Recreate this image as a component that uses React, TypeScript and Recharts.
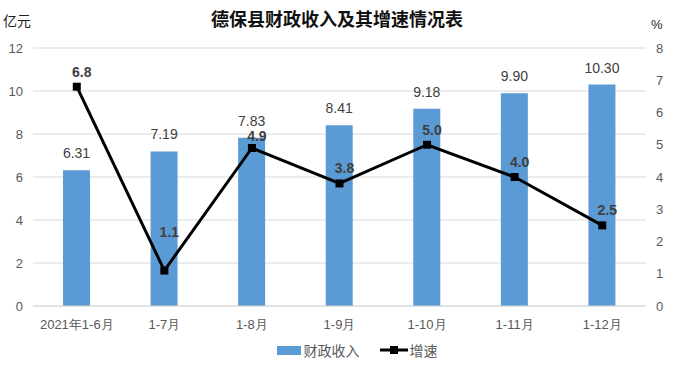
import {
  ComposedChart,
  Bar,
  Line,
  XAxis,
  YAxis,
  CartesianGrid,
  Legend,
  LabelList,
} from 'recharts';

const periods = ['2021年1-6月', '1-7月', '1-8月', '1-9月', '1-10月', '1-11月', '1-12月'];
const revenue = [6.31, 7.19, 7.83, 8.41, 9.18, 9.9, 10.3];
const growth = [6.8, 1.1, 4.9, 3.8, 5.0, 4.0, 2.5];
const leftTicks = [0, 2, 4, 6, 8, 10, 12];
const rightTicks = [0, 1, 2, 3, 4, 5, 6, 7, 8];

// extra lift for growth labels that were nudged by hand in the original
const growthLabelLift = [0, 24, -3, 0, 0, 0, 0];

const data = periods.map((p, i) => ({ period: p, revenue: revenue[i], growth: growth[i] }));

const FONT = '"Liberation Sans", Arial, sans-serif';
const CJK = '"Noto Sans CJK SC", sans-serif';
const tickStyle = { fontSize: 13, fill: '#595959', fontFamily: FONT };

function SquareDot(props: any) {
  const { cx, cy } = props;
  if (cx == null || cy == null) return null;
  return <rect x={cx - 4} y={cy - 4} width={8} height={8} fill="#000" />;
}

function GrowthLabel(props: any) {
  const { x, y, value, index } = props;
  return (
    <text
      x={x + 5}
      y={y - 10 - (growthLabelLift[index] || 0)}
      textAnchor="middle"
      fontSize={14}
      fontWeight="bold"
      fill="#404040"
      fontFamily={FONT}
    >
      {Number(value).toFixed(1)}
    </text>
  );
}

function RevenueLabel(props: any) {
  const { x, y, width, value } = props;
  return (
    <text
      x={x + width / 2}
      y={y - 12}
      textAnchor="middle"
      fontSize={14}
      fill="#404040"
      fontFamily={FONT}
    >
      {Number(value).toFixed(2)}
    </text>
  );
}

function ChartLegend() {
  return (
    <div style={{ display: 'flex', justifyContent: 'center', alignItems: 'center', gap: 20, paddingLeft: 40, marginTop: 4, fontSize: 14, fontFamily: CJK, color: '#595959' }}>
      <span style={{ display: 'flex', alignItems: 'center' }}>
        <span style={{ display: 'inline-block', width: 24, height: 9, background: '#5B9BD5', marginRight: 3 }} />
        财政收入
      </span>
      <span style={{ display: 'flex', alignItems: 'center' }}>
        <svg width={28} height={10} style={{ marginRight: 2 }}>
          <line x1={0} y1={5} x2={28} y2={5} stroke="#000" strokeWidth={3} />
          <rect x={10} y={1} width={8} height={8} fill="#000" />
        </svg>
        增速
      </span>
    </div>
  );
}

export default function App() {
  return (
    <div style={{ position: 'absolute', left: 0, top: 0, width: 674, height: 370, background: '#fff' }}>
      <div
        style={{
          position: 'absolute',
          top: 5,
          left: 0,
          width: 674,
          textAlign: 'center',
          fontFamily: CJK,
          fontWeight: 'bold',
          fontSize: 18,
          color: '#111',
        }}
      >
        德保县财政收入及其增速情况表
      </div>
      <div style={{ position: 'absolute', top: 10, left: 3, fontSize: 14, fontFamily: CJK, color: '#222' }}>
        亿元
      </div>
      <div style={{ position: 'absolute', top: 17, left: 651, fontSize: 13, fontFamily: FONT, color: '#222' }}>%</div>
      <ComposedChart
        width={674}
        height={370}
        data={data}
        margin={{ top: 48, right: 0, bottom: 8, left: 0 }}
      >
        <CartesianGrid yAxisId="left" vertical={false} stroke="#d9d9d9" />
        <XAxis
          dataKey="period"
          tickLine={false}
          axisLine={{ stroke: '#d9d9d9' }}
          tick={tickStyle}
          tickMargin={8}
          height={30}
          interval={0}
        />
        <YAxis
          yAxisId="left"
          width={33}
          domain={[0, 12]}
          ticks={leftTicks}
          tickLine={false}
          axisLine={false}
          tick={tickStyle}
          tickMargin={4}
        />
        <YAxis
          yAxisId="right"
          orientation="right"
          width={28}
          domain={[0, 8]}
          ticks={rightTicks}
          tickLine={false}
          axisLine={false}
          tick={tickStyle}
          tickMargin={4}
        />
        <Legend verticalAlign="bottom" height={26} content={() => <ChartLegend />} />
        <Bar yAxisId="left" dataKey="revenue" name="财政收入" fill="#5B9BD5" barSize={27} isAnimationActive={false}>
          <LabelList dataKey="revenue" content={RevenueLabel} />
        </Bar>
        <Line
          yAxisId="right"
          dataKey="growth"
          name="增速"
          stroke="#000"
          strokeWidth={3}
          dot={<SquareDot />}
          activeDot={false}
          isAnimationActive={false}
        >
          <LabelList dataKey="growth" content={GrowthLabel} />
        </Line>
      </ComposedChart>
    </div>
  );
}
